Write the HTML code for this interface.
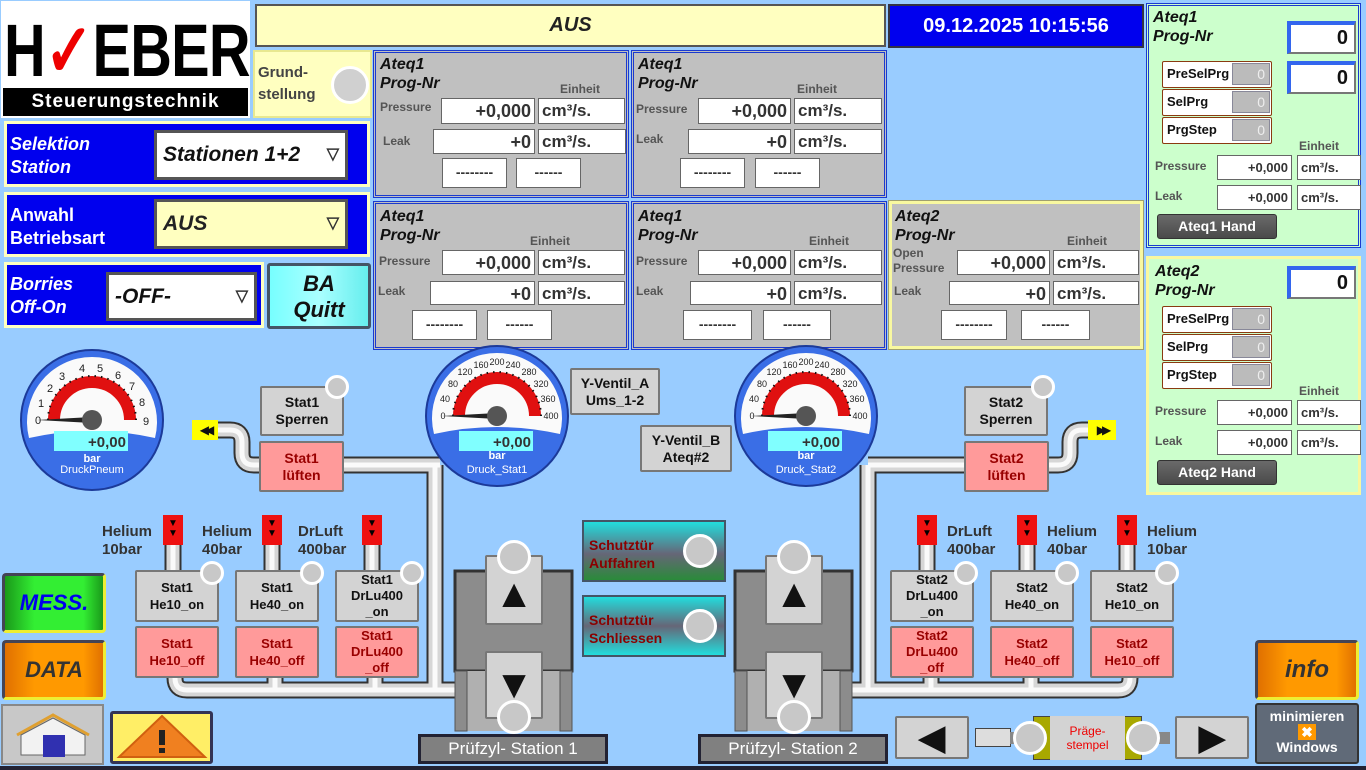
<!DOCTYPE html>
<html><head><meta charset="utf-8"><style>
*{box-sizing:border-box;margin:0;padding:0}
body{width:1366px;height:770px;overflow:hidden;background:#99ccff;font-family:"Liberation Sans",sans-serif;position:relative}
div{position:absolute}
.b{font-weight:bold}
.i{font-style:italic}
.pan{background:#c0c0c0;border:3px double #1a3ad0}
.pan5{background:#c0c0c0;border:3px solid #f8f8a0;outline:1px solid #a0a070}
.t{color:#111;font-weight:bold;font-style:italic;font-size:16px;line-height:19px}
.lbl{color:#555;font-weight:bold;font-size:12px}
.box{background:#fff;border:1px solid #666;font-weight:bold;font-size:18px;color:#333;text-align:right;padding-right:3px;line-height:24px}
.unit{background:#fff;border:1px solid #666;font-weight:bold;font-size:17px;color:#333;padding-left:3px;line-height:24px}
.dash{background:#fff;border:1px solid #666;font-weight:bold;font-size:14px;color:#333;text-align:center;line-height:26px}
.btn{background:#d3d3d3;border:2px solid #777;border-radius:2px;font-weight:bold;font-size:14px;color:#111;text-align:center;line-height:17px;display:flex;align-items:center;justify-content:center}
.off{background:#ff9a9a;color:#900}
.ind{width:24px;height:24px;border-radius:50%;background:#c8c8c8;border:3px solid #fff}
.bigind{width:34px;height:34px;border-radius:50%;background:#c8c8c8;border:3px solid #fff}
.valve{width:20px;height:30px;background:#ee1111;color:#000;font-size:10px;line-height:10px;text-align:center;padding-top:4px}
.vl{font-weight:bold;font-size:15px;color:#333;line-height:18px}
.grn{background:#ccffcc}
.row{background:#fff;border:1px solid #8a3a10;border-radius:2px;font-weight:bold;font-size:13px;color:#111;padding-left:4px;line-height:24px}
.row span{position:absolute;right:1px;top:1px;width:38px;height:22px;background:#bbb;border:1px solid #889;color:#eee;text-align:right;padding-right:4px;line-height:20px;font-weight:normal;font-size:14px}
.zero{background:#fff;border:2px solid #777;border-top:4px solid #3366ee;border-left:4px solid #3366ee;font-weight:bold;font-size:20px;text-align:right;padding-right:6px;color:#111}
.sbox{background:#fff;border:1px solid #666;font-weight:bold;font-size:13px;color:#333;text-align:right;padding-right:3px;line-height:23px}
.sunit{background:#fff;border:1px solid #666;font-weight:bold;font-size:13px;color:#333;padding-left:3px;line-height:23px}
.hand{background:linear-gradient(#6a6a6a,#4a4a4a);border:1px solid #333;border-radius:3px;color:#fff;font-weight:bold;font-size:14px;text-align:center;line-height:22px}
</style></head><body>

<!-- logo -->
<div style="left:0;top:0;width:251px;height:119px;background:#fff;border:1px solid #9cf;overflow:hidden"></div>
<div style="left:4px;top:20px;width:320px;height:62px;font-family:'Liberation Sans';font-weight:900;font-size:74px;line-height:62px;letter-spacing:-1px;transform:scaleX(0.78);transform-origin:left;white-space:nowrap">H<span style="color:#e00">✓</span>EBER</div>
<div style="left:3px;top:88px;width:245px;height:28px;background:#000;color:#fff;font-weight:bold;font-size:19px;letter-spacing:1px;text-align:center;line-height:28px">Steuerungstechnik</div>

<!-- top bars -->
<div style="left:255px;top:4px;width:631px;height:43px;background:#ffffc0;border:2px solid #555;text-align:center;font-weight:bold;font-style:italic;font-size:20px;color:#222;line-height:39px">AUS</div>
<div style="left:888px;top:4px;width:256px;height:44px;background:#0000ee;border:2px solid #334;color:#fff;font-weight:bold;font-size:20px;text-align:center;line-height:40px">09.12.2025 10:15:56</div>

<div style="left:253px;top:50px;width:119px;height:68px;background:#ffffc0;border:2px solid #e8e890"></div>
<div style="left:258px;top:62px;font-weight:bold;font-size:15px;color:#444;line-height:22px">Grund-<br>stellung</div>
<div style="left:331px;top:66px;width:38px;height:38px;border-radius:50%;background:#d0d0d0;border:3px solid #fff"></div>

<!-- selection blocks -->
<div style="left:4px;top:121px;width:366px;height:66px;background:#0000ee;border:3px solid #ffffc0"></div>
<div style="left:10px;top:133px;color:#fff;font-weight:bold;font-style:italic;font-size:18px;line-height:23px">Selektion<br>Station</div>
<div style="left:154px;top:130px;width:194px;height:50px;background:#fff;border:3px solid #555;font-weight:bold;font-style:italic;font-size:21px;color:#111;line-height:44px;padding-left:6px">Stationen 1+2<span style="position:absolute;right:6px;top:0;font-size:16px;font-style:normal;color:#333">▽</span></div>

<div style="left:4px;top:192px;width:366px;height:65px;background:#0000ee;border:3px solid #ffffc0"></div>
<div style="left:10px;top:204px;color:#fff;font-weight:bold;font-size:18px;line-height:23px">Anwahl<br>Betriebsart</div>
<div style="left:154px;top:199px;width:194px;height:50px;background:#ffffc0;border:3px solid #555;font-weight:bold;font-style:italic;font-size:21px;color:#222;line-height:44px;padding-left:6px">AUS<span style="position:absolute;right:6px;top:0;font-size:16px;font-style:normal;color:#333">▽</span></div>

<div style="left:4px;top:262px;width:260px;height:66px;background:#0000ee;border:3px solid #ffffc0"></div>
<div style="left:10px;top:273px;color:#fff;font-weight:bold;font-style:italic;font-size:18px;line-height:23px">Borries<br>Off-On</div>
<div style="left:106px;top:272px;width:151px;height:49px;background:#fff;border:3px solid #555;font-weight:bold;font-style:italic;font-size:21px;color:#111;line-height:43px;padding-left:6px">-OFF-<span style="position:absolute;right:6px;top:0;font-size:16px;font-style:normal;color:#333">▽</span></div>
<div style="left:267px;top:263px;width:104px;height:66px;background:linear-gradient(90deg,#7ff 0%,#aff 50%,#6ee 100%);border:3px solid #456;border-radius:3px;text-align:center;font-weight:bold;font-style:italic;font-size:22px;line-height:26px;color:#111;padding-top:5px">BA<br>Quitt</div>

<!-- Ateq panels -->
<div class="pan" style="left:373px;top:50px;width:256px;height:148px"></div>
<div class="t" style="left:380px;top:55px">Ateq1<br>Prog-Nr</div>
<div class="lbl" style="left:560px;top:82px">Einheit</div>
<div class="lbl" style="left:380px;top:100px">Pressure</div>
<div class="box" style="left:441px;top:98px;width:94px;height:26px">+0,000</div>
<div class="unit" style="left:538px;top:98px;width:87px;height:26px">cm³/s.</div>
<div class="lbl" style="left:383px;top:134px">Leak</div>
<div class="box" style="left:433px;top:129px;width:102px;height:25px">+0</div>
<div class="unit" style="left:538px;top:129px;width:88px;height:25px">cm³/s.</div>
<div class="dash" style="left:442px;top:158px;width:65px;height:30px">--------</div>
<div class="dash" style="left:516px;top:158px;width:65px;height:30px">------</div>

<div class="pan" style="left:631px;top:50px;width:256px;height:148px"></div>
<div class="t" style="left:638px;top:55px">Ateq1<br>Prog-Nr</div>
<div class="lbl" style="left:797px;top:82px">Einheit</div>
<div class="lbl" style="left:636px;top:102px">Pressure</div>
<div class="box" style="left:698px;top:98px;width:93px;height:26px">+0,000</div>
<div class="unit" style="left:794px;top:98px;width:88px;height:26px">cm³/s.</div>
<div class="lbl" style="left:636px;top:132px">Leak</div>
<div class="box" style="left:688px;top:129px;width:103px;height:25px">+0</div>
<div class="unit" style="left:794px;top:129px;width:88px;height:25px">cm³/s.</div>
<div class="dash" style="left:680px;top:158px;width:65px;height:30px">--------</div>
<div class="dash" style="left:755px;top:158px;width:65px;height:30px">------</div>

<div class="pan" style="left:373px;top:201px;width:256px;height:149px"></div>
<div class="t" style="left:380px;top:207px">Ateq1<br>Prog-Nr</div>
<div class="lbl" style="left:530px;top:234px">Einheit</div>
<div class="lbl" style="left:379px;top:254px">Pressure</div>
<div class="box" style="left:442px;top:250px;width:93px;height:25px">+0,000</div>
<div class="unit" style="left:538px;top:250px;width:87px;height:25px">cm³/s.</div>
<div class="lbl" style="left:378px;top:284px">Leak</div>
<div class="box" style="left:430px;top:281px;width:105px;height:24px">+0</div>
<div class="unit" style="left:538px;top:281px;width:87px;height:24px">cm³/s.</div>
<div class="dash" style="left:412px;top:310px;width:65px;height:30px">--------</div>
<div class="dash" style="left:487px;top:310px;width:65px;height:30px">------</div>

<div class="pan" style="left:631px;top:201px;width:256px;height:149px"></div>
<div class="t" style="left:638px;top:207px">Ateq1<br>Prog-Nr</div>
<div class="lbl" style="left:809px;top:234px">Einheit</div>
<div class="lbl" style="left:636px;top:254px">Pressure</div>
<div class="box" style="left:698px;top:250px;width:93px;height:25px">+0,000</div>
<div class="unit" style="left:794px;top:250px;width:88px;height:25px">cm³/s.</div>
<div class="lbl" style="left:636px;top:284px">Leak</div>
<div class="box" style="left:690px;top:281px;width:101px;height:24px">+0</div>
<div class="unit" style="left:794px;top:281px;width:88px;height:24px">cm³/s.</div>
<div class="dash" style="left:683px;top:310px;width:69px;height:30px">--------</div>
<div class="dash" style="left:763px;top:310px;width:68px;height:30px">------</div>

<div class="pan5" style="left:889px;top:201px;width:254px;height:148px"></div>
<div class="t" style="left:895px;top:207px">Ateq2<br>Prog-Nr</div>
<div class="lbl" style="left:1067px;top:234px">Einheit</div>
<div class="lbl" style="left:893px;top:246px;line-height:15px">Open<br>Pressure</div>
<div class="box" style="left:957px;top:250px;width:93px;height:25px">+0,000</div>
<div class="unit" style="left:1053px;top:250px;width:86px;height:25px">cm³/s.</div>
<div class="lbl" style="left:894px;top:284px">Leak</div>
<div class="box" style="left:949px;top:281px;width:101px;height:24px">+0</div>
<div class="unit" style="left:1053px;top:281px;width:86px;height:24px">cm³/s.</div>
<div class="dash" style="left:941px;top:310px;width:66px;height:30px">--------</div>
<div class="dash" style="left:1021px;top:310px;width:69px;height:30px">------</div>

<!-- right green panels -->
<div class="grn" style="left:1146px;top:3px;width:215px;height:245px;border:3px double #1a3ad0"></div>
<div class="t" style="left:1153px;top:8px">Ateq1<br>Prog-Nr</div>
<div class="zero" style="left:1287px;top:21px;width:69px;height:33px;line-height:26px">0</div>
<div class="zero" style="left:1287px;top:61px;width:69px;height:33px;line-height:26px">0</div>
<div class="row" style="left:1162px;top:61px;width:110px;height:27px">PreSelPrg<span>0</span></div>
<div class="row" style="left:1162px;top:89px;width:110px;height:27px">SelPrg<span>0</span></div>
<div class="row" style="left:1162px;top:117px;width:110px;height:27px">PrgStep<span>0</span></div>
<div class="lbl" style="left:1299px;top:139px">Einheit</div>
<div class="lbl" style="left:1155px;top:159px">Pressure</div>
<div class="sbox" style="left:1217px;top:155px;width:75px;height:25px">+0,000</div>
<div class="sunit" style="left:1297px;top:155px;width:64px;height:25px">cm³/s.</div>
<div class="lbl" style="left:1155px;top:189px">Leak</div>
<div class="sbox" style="left:1217px;top:185px;width:75px;height:25px">+0,000</div>
<div class="sunit" style="left:1297px;top:185px;width:64px;height:25px">cm³/s.</div>
<div class="hand" style="left:1157px;top:214px;width:120px;height:25px">Ateq1 Hand</div>

<div class="grn" style="left:1146px;top:256px;width:215px;height:239px;border:3px solid #f8f8a0"></div>
<div class="t" style="left:1155px;top:262px">Ateq2<br>Prog-Nr</div>
<div class="zero" style="left:1287px;top:266px;width:69px;height:33px;line-height:26px">0</div>
<div class="row" style="left:1162px;top:306px;width:110px;height:27px">PreSelPrg<span>0</span></div>
<div class="row" style="left:1162px;top:334px;width:110px;height:27px">SelPrg<span>0</span></div>
<div class="row" style="left:1162px;top:362px;width:110px;height:27px">PrgStep<span>0</span></div>
<div class="lbl" style="left:1299px;top:384px">Einheit</div>
<div class="lbl" style="left:1155px;top:404px">Pressure</div>
<div class="sbox" style="left:1217px;top:400px;width:75px;height:25px">+0,000</div>
<div class="sunit" style="left:1297px;top:400px;width:64px;height:25px">cm³/s.</div>
<div class="lbl" style="left:1155px;top:434px">Leak</div>
<div class="sbox" style="left:1217px;top:430px;width:75px;height:25px">+0,000</div>
<div class="sunit" style="left:1297px;top:430px;width:64px;height:25px">cm³/s.</div>
<div class="hand" style="left:1157px;top:460px;width:120px;height:25px">Ateq2 Hand</div>

<!-- pipes + gauges -->
<svg style="position:absolute;left:0;top:0" width="1366" height="770">
<g fill="none" stroke-linecap="butt" stroke-linejoin="round">
<g stroke="#333" stroke-width="17">
<path d="M218,430 L230,430 Q242,430 242,442 L242,453 Q242,465 254,465 L259,465"/>
<path d="M343,465 L440,465 M435,465 L435,690 M175,677 L175,678 Q175,690 187,690 L455,690 M275,677 L275,690 M375,677 L375,690 M173,545 L173,570 M272,545 L272,570 M372,545 L372,570"/>
<path d="M868,465 L964,465 M1048,465 L1058,465 Q1070,465 1070,453 L1070,442 Q1070,430 1082,430 L1088,430 M868,465 L868,690 M852,690 L1118,690 Q1130,690 1130,678 L1130,677 M931,677 L931,690 M1031,677 L1031,690 M927,545 L927,570 M1027,545 L1027,570 M1127,545 L1127,570"/>
</g>
<g stroke="#d6d6d6" stroke-width="13">
<path d="M218,430 L230,430 Q242,430 242,442 L242,453 Q242,465 254,465 L259,465"/>
<path d="M343,465 L440,465 M435,465 L435,690 M175,677 L175,678 Q175,690 187,690 L455,690 M275,677 L275,690 M375,677 L375,690 M173,545 L173,570 M272,545 L272,570 M372,545 L372,570"/>
<path d="M868,465 L964,465 M1048,465 L1058,465 Q1070,465 1070,453 L1070,442 Q1070,430 1082,430 L1088,430 M868,465 L868,690 M852,690 L1118,690 Q1130,690 1130,678 L1130,677 M931,677 L931,690 M1031,677 L1031,690 M927,545 L927,570 M1027,545 L1027,570 M1127,545 L1127,570"/>
</g>
<g stroke="#fafafa" stroke-width="5">
<path d="M218,430 L230,430 Q242,430 242,442 L242,453 Q242,465 254,465 L259,465"/>
<path d="M343,465 L440,465 M435,465 L435,690 M175,677 L175,678 Q175,690 187,690 L455,690 M275,677 L275,690 M375,677 L375,690 M173,545 L173,570 M272,545 L272,570 M372,545 L372,570"/>
<path d="M868,465 L964,465 M1048,465 L1058,465 Q1070,465 1070,453 L1070,442 Q1070,430 1082,430 L1088,430 M868,465 L868,690 M852,690 L1118,690 Q1130,690 1130,678 L1130,677 M931,677 L931,690 M1031,677 L1031,690 M927,545 L927,570 M1027,545 L1027,570 M1127,545 L1127,570"/>
</g>
</g>

<!-- gauge 1 -->
<g transform="translate(92,420)" font-family="Liberation Sans" text-anchor="middle">
<ellipse cx="0" cy="0" rx="71" ry="70" fill="#3a6ee6" stroke="#1c3a99" stroke-width="2"/>
<path d="M-63,18 A65,65 0 1 1 63,18 Q0,4 -63,18Z" fill="#fafafa"/>
<path d="M-38,0 A38,38 0 0 1 38,0" stroke="#e01010" stroke-width="12" fill="none"/>
<path d="M-44,0 A44,44 0 0 1 44,0" stroke="#111" stroke-width="2" fill="none" stroke-dasharray="1.5 5"/>
<g font-size="11" fill="#222">
<text x="-54" y="4">0</text><text x="-51" y="-13">1</text><text x="-42" y="-28">2</text><text x="-30" y="-40">3</text><text x="-10" y="-48">4</text><text x="8" y="-48">5</text><text x="26" y="-41">6</text><text x="40" y="-30">7</text><text x="50" y="-14">8</text><text x="54" y="5">9</text></g>
<path d="M0,-3 L-55,0 L0,3Z" fill="#222"/>
<circle r="10" fill="#555"/>
<rect x="-38" y="11" width="74" height="20" fill="#80ffff"/>
<text x="34" y="27" text-anchor="end" font-size="15" font-weight="bold" fill="#333">+0,00</text>
<text x="0" y="42" font-size="11" font-weight="bold" fill="#fff">bar</text>
<text x="0" y="53" font-size="11" fill="#fff">DruckPneum</text>
</g>

<!-- gauge 2 -->
<g transform="translate(497,416)" font-family="Liberation Sans" text-anchor="middle">
<ellipse cx="0" cy="0" rx="71" ry="70" fill="#3a6ee6" stroke="#1c3a99" stroke-width="2"/>
<path d="M-63,18 A65,65 0 1 1 63,18 Q0,4 -63,18Z" fill="#fafafa"/>
<path d="M-38,0 A38,38 0 0 1 38,0" stroke="#e01010" stroke-width="12" fill="none"/>
<path d="M-44,0 A44,44 0 0 1 44,0" stroke="#111" stroke-width="2" fill="none" stroke-dasharray="1.5 5"/>
<g font-size="9" fill="#222">
<text x="-54" y="3">0</text><text x="-52" y="-14">40</text><text x="-44" y="-29">80</text><text x="-32" y="-41">120</text><text x="-16" y="-48">160</text><text x="0" y="-51">200</text><text x="16" y="-48">240</text><text x="32" y="-41">280</text><text x="44" y="-29">320</text><text x="51" y="-14">360</text><text x="54" y="3">400</text></g>
<path d="M0,-3 L-55,0 L0,3Z" fill="#222"/>
<circle r="10" fill="#555"/>
<rect x="-38" y="15" width="74" height="20" fill="#80ffff"/>
<text x="34" y="31" text-anchor="end" font-size="15" font-weight="bold" fill="#333">+0,00</text>
<text x="0" y="43" font-size="11" font-weight="bold" fill="#fff">bar</text>
<text x="0" y="57" font-size="11" fill="#fff">Druck_Stat1</text>
</g>

<!-- gauge 3 -->
<g transform="translate(806,416)" font-family="Liberation Sans" text-anchor="middle">
<ellipse cx="0" cy="0" rx="71" ry="70" fill="#3a6ee6" stroke="#1c3a99" stroke-width="2"/>
<path d="M-63,18 A65,65 0 1 1 63,18 Q0,4 -63,18Z" fill="#fafafa"/>
<path d="M-38,0 A38,38 0 0 1 38,0" stroke="#e01010" stroke-width="12" fill="none"/>
<path d="M-44,0 A44,44 0 0 1 44,0" stroke="#111" stroke-width="2" fill="none" stroke-dasharray="1.5 5"/>
<g font-size="9" fill="#222">
<text x="-54" y="3">0</text><text x="-52" y="-14">40</text><text x="-44" y="-29">80</text><text x="-32" y="-41">120</text><text x="-16" y="-48">160</text><text x="0" y="-51">200</text><text x="16" y="-48">240</text><text x="32" y="-41">280</text><text x="44" y="-29">320</text><text x="51" y="-14">360</text><text x="54" y="3">400</text></g>
<path d="M0,-3 L-55,0 L0,3Z" fill="#222"/>
<circle r="10" fill="#555"/>
<rect x="-38" y="15" width="74" height="20" fill="#80ffff"/>
<text x="34" y="31" text-anchor="end" font-size="15" font-weight="bold" fill="#333">+0,00</text>
<text x="0" y="43" font-size="11" font-weight="bold" fill="#fff">bar</text>
<text x="0" y="57" font-size="11" fill="#fff">Druck_Stat2</text>
</g>

<!-- cylinders -->
<g>
<rect x="455" y="571" width="117" height="100" fill="#8c8c8c" stroke="#333" stroke-width="3"/>
<rect x="455" y="671" width="117" height="60" fill="#b0b0b0"/>
<rect x="455" y="671" width="12" height="60" fill="#8c8c8c" stroke="#555"/>
<rect x="560" y="671" width="12" height="60" fill="#8c8c8c" stroke="#555"/>
<rect x="735" y="571" width="117" height="100" fill="#8c8c8c" stroke="#333" stroke-width="3"/>
<rect x="735" y="671" width="117" height="60" fill="#b0b0b0"/>
<rect x="735" y="671" width="12" height="60" fill="#8c8c8c" stroke="#555"/>
<rect x="840" y="671" width="12" height="60" fill="#8c8c8c" stroke="#555"/>
</g>
</svg>

<!-- cylinder buttons -->
<div class="btn" style="left:485px;top:555px;width:58px;height:70px;font-size:40px;line-height:40px;padding-top:8px">▲</div>
<div class="btn" style="left:485px;top:651px;width:58px;height:68px;font-size:40px;line-height:40px">▼</div>
<div class="bigind" style="left:497px;top:540px"></div>
<div class="bigind" style="left:497px;top:700px"></div>
<div style="left:418px;top:734px;width:190px;height:30px;background:#808080;border:3px solid #223;color:#fff;font-size:17px;text-align:center;line-height:24px">Prüfzyl- Station 1</div>

<div class="btn" style="left:765px;top:555px;width:58px;height:70px;font-size:40px;line-height:40px;padding-top:8px">▲</div>
<div class="btn" style="left:765px;top:651px;width:58px;height:68px;font-size:40px;line-height:40px">▼</div>
<div class="bigind" style="left:777px;top:540px"></div>
<div class="bigind" style="left:777px;top:700px"></div>
<div style="left:698px;top:734px;width:190px;height:30px;background:#808080;border:3px solid #223;color:#fff;font-size:17px;text-align:center;line-height:24px">Prüfzyl- Station 2</div>

<!-- arrows -->
<div style="left:192px;top:420px;width:26px;height:20px;background:#ffff00;font-size:12px;text-align:center;line-height:20px;color:#111;letter-spacing:-4px">◀◀</div>
<div style="left:1088px;top:420px;width:28px;height:20px;background:#ffff00;font-size:12px;text-align:center;line-height:20px;color:#111;letter-spacing:-4px">▶▶</div>

<!-- Station 1 -->
<div class="btn" style="left:260px;top:386px;width:84px;height:50px">Stat1<br>Sperren</div>
<div class="ind" style="left:325px;top:375px"></div>
<div class="btn off" style="left:259px;top:441px;width:85px;height:51px">Stat1<br>lüften</div>

<div class="btn" style="left:570px;top:368px;width:90px;height:47px">Y-Ventil_A<br>Ums_1-2</div>
<div class="btn" style="left:640px;top:425px;width:92px;height:47px">Y-Ventil_B<br>Ateq#2</div>

<div class="btn" style="left:964px;top:386px;width:84px;height:50px">Stat2<br>Sperren</div>
<div class="ind" style="left:1031px;top:375px"></div>
<div class="btn off" style="left:964px;top:441px;width:85px;height:51px">Stat2<br>lüften</div>

<!-- valves -->
<div class="valve" style="left:163px;top:515px">▼<br>▼</div>
<div class="valve" style="left:262px;top:515px">▼<br>▼</div>
<div class="valve" style="left:362px;top:515px">▼<br>▼</div>
<div class="valve" style="left:917px;top:515px">▼<br>▼</div>
<div class="valve" style="left:1017px;top:515px">▼<br>▼</div>
<div class="valve" style="left:1117px;top:515px">▼<br>▼</div>
<div class="vl" style="left:102px;top:523px">Helium<br>10bar</div>
<div class="vl" style="left:202px;top:523px">Helium<br>40bar</div>
<div class="vl" style="left:298px;top:523px">DrLuft<br>400bar</div>
<div class="vl" style="left:947px;top:523px">DrLuft<br>400bar</div>
<div class="vl" style="left:1047px;top:523px">Helium<br>40bar</div>
<div class="vl" style="left:1147px;top:523px">Helium<br>10bar</div>

<div class="btn" style="left:135px;top:570px;width:84px;height:52px;font-size:13px">Stat1<br>He10_on</div>
<div class="btn" style="left:235px;top:570px;width:84px;height:52px;font-size:13px">Stat1<br>He40_on</div>
<div class="btn" style="left:335px;top:570px;width:84px;height:52px;font-size:13px;line-height:16px">Stat1<br>DrLu400<br>_on</div>
<div class="btn off" style="left:135px;top:626px;width:84px;height:52px;font-size:13px">Stat1<br>He10_off</div>
<div class="btn off" style="left:235px;top:626px;width:84px;height:52px;font-size:13px">Stat1<br>He40_off</div>
<div class="btn off" style="left:335px;top:626px;width:84px;height:52px;font-size:13px;line-height:16px">Stat1<br>DrLu400<br>_off</div>
<div class="ind" style="left:200px;top:561px"></div>
<div class="ind" style="left:300px;top:561px"></div>
<div class="ind" style="left:400px;top:561px"></div>

<div class="btn" style="left:890px;top:570px;width:84px;height:52px;font-size:13px;line-height:16px">Stat2<br>DrLu400<br>_on</div>
<div class="btn" style="left:990px;top:570px;width:84px;height:52px;font-size:13px">Stat2<br>He40_on</div>
<div class="btn" style="left:1090px;top:570px;width:84px;height:52px;font-size:13px">Stat2<br>He10_on</div>
<div class="btn off" style="left:890px;top:626px;width:84px;height:52px;font-size:13px;line-height:16px">Stat2<br>DrLu400<br>_off</div>
<div class="btn off" style="left:990px;top:626px;width:84px;height:52px;font-size:13px">Stat2<br>He40_off</div>
<div class="btn off" style="left:1090px;top:626px;width:84px;height:52px;font-size:13px">Stat2<br>He10_off</div>
<div class="ind" style="left:954px;top:561px"></div>
<div class="ind" style="left:1055px;top:561px"></div>
<div class="ind" style="left:1155px;top:561px"></div>

<!-- Schutztür -->
<div style="left:582px;top:520px;width:144px;height:62px;background:linear-gradient(#2dd,#667 55%,#2a8a3a);border:2px solid #456;color:#8a0000;font-weight:bold;font-size:14px;line-height:18px;padding:14px 0 0 5px">Schutztür<br>Auffahren</div>
<div class="bigind" style="left:683px;top:534px"></div>
<div style="left:582px;top:595px;width:144px;height:62px;background:linear-gradient(#2dd,#667 50%,#2dd);border:2px solid #456;color:#8a0000;font-weight:bold;font-size:14px;line-height:18px;padding:14px 0 0 5px">Schutztür<br>Schliessen</div>
<div class="bigind" style="left:683px;top:609px"></div>

<!-- left buttons -->
<div style="left:2px;top:573px;width:104px;height:60px;background:linear-gradient(90deg,#1a9a1a,#33ee33 30%,#33ee33 80%,#1a9a1a);border:3px solid #445;border-bottom-color:#ee3;border-right-color:#ee3;border-radius:4px;color:#0000ee;font-weight:bold;font-style:italic;font-size:22px;text-align:center;line-height:54px">MESS.</div>
<div style="left:2px;top:640px;width:104px;height:60px;background:linear-gradient(90deg,#e07000,#ff9900 30%,#ff9900 80%,#e07000);border:3px solid #445;border-bottom-color:#ee3;border-right-color:#ee3;border-radius:4px;color:#333;font-weight:bold;font-style:italic;font-size:22px;text-align:center;line-height:54px">DATA</div>
<div style="left:1px;top:704px;width:103px;height:61px;background:#c8c8c8;border:2px solid #888"></div>
<svg style="position:absolute;left:15px;top:713px" width="76" height="46"><path d="M2,22 L38,2 L74,22" fill="none" stroke="#e0a030" stroke-width="3"/><path d="M6,22 L38,5 L70,22 L70,42 L6,42Z" fill="#f2f2f2" stroke="#666"/><rect x="28" y="22" width="22" height="22" fill="#3030b0"/></svg>
<div style="left:110px;top:711px;width:103px;height:53px;background:#ffee66;border:3px solid #335;border-radius:3px"></div>
<svg style="position:absolute;left:115px;top:713px" width="94" height="48"><path d="M47,3 L90,44 L4,44Z" fill="#f08020" stroke="#d06010" stroke-width="2"/><rect x="44" y="17" width="6" height="15" fill="#222"/><rect x="44" y="35" width="6" height="5" fill="#222"/></svg>

<!-- right bottom -->
<div style="left:1255px;top:640px;width:104px;height:60px;background:linear-gradient(90deg,#e07000,#ff9900 30%,#ff9900 80%,#e07000);border:3px solid #445;border-bottom-color:#ee3;border-right-color:#ee3;border-radius:4px;color:#333;font-weight:bold;font-style:italic;font-size:24px;text-align:center;line-height:54px">info</div>
<div style="left:1255px;top:703px;width:104px;height:61px;background:#606a78;border:2px solid #333;border-radius:3px;color:#fff;font-weight:bold;font-size:14px;text-align:center;line-height:15px;padding-top:4px">minimieren<br><span style="display:inline-block;width:18px;height:16px;background:#f90;color:#fff;line-height:16px">✖</span><br>Windows</div>
<div class="btn" style="left:895px;top:716px;width:74px;height:43px;font-size:34px;line-height:34px">◀</div>
<div class="btn" style="left:1175px;top:716px;width:74px;height:43px;font-size:34px;line-height:34px">▶</div>
<div style="left:975px;top:728px;width:36px;height:19px;background:#ddd;border:1px solid #444"></div>
<div style="left:1010px;top:732px;width:160px;height:12px;background:#888"></div>
<div style="left:1033px;top:716px;width:109px;height:44px;background:#a8a800;border:1px solid #444"></div>
<div style="left:1050px;top:716px;width:75px;height:44px;background:#d3d3d3;color:#e00;font-size:12px;text-align:center;line-height:14px;padding-top:8px">Präge-<br>stempel</div>
<div class="bigind" style="left:1013px;top:721px"></div>
<div class="bigind" style="left:1126px;top:721px"></div>

<div style="left:0;top:766px;width:1366px;height:4px;background:#223"></div>
</body></html>
